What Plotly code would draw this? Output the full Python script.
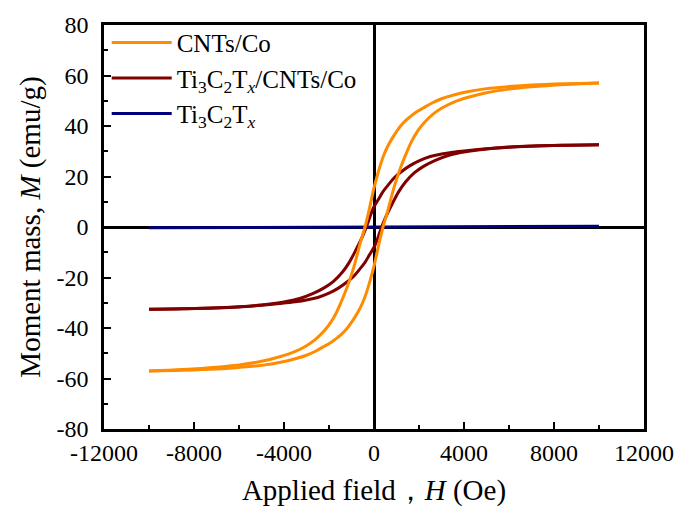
import plotly.graph_objects as go

# ---- data ----
# CNTs/Co loop: descending branch (+H -> -H) and ascending branch (-H -> +H)
cnt_down_H = [10000, 8500, 7000, 6000, 5000, 4150, 3500, 3000, 2600, 2200, 1900, 1650, 1450, 1200,
              1000, 800, 600, 450, 300, 150, 0, -200, -400, -600, -900, -1200, -1450, -1650,
              -1900, -2200, -2600, -3000, -3500, -4150, -5000, -6000, -7000, -8500, -10000]
cnt_down_M = [57.0, 56.7, 56.2, 55.6, 54.8, 53.6, 52.2, 50.8, 49.2, 47.2, 45.6, 44.0, 42.5, 40.2,
              37.8, 35.0, 31.8, 28.8, 25.0, 20.5, 15.5, 7.5, 0.0, -6.0, -16.0, -24.0, -29.5, -33.5,
              -37.5, -41.0, -44.5, -47.0, -49.3, -51.3, -53.2, -54.6, -55.5, -56.4, -57.0]
cnt_up_H = [-10000, -8500, -7000, -6000, -5000, -4150, -3500, -3000, -2600, -2200, -1900, -1650, -1450, -1200,
            -1000, -800, -600, -450, -300, -150, 0, 200, 400, 600, 900, 1200, 1450, 1650,
            1900, 2200, 2600, 3000, 3500, 4150, 5000, 6000, 7000, 8500, 10000]
cnt_up_M = [-57.0, -56.7, -56.2, -55.6, -54.8, -53.6, -52.2, -50.8, -49.2, -47.2, -45.6, -44.0, -42.5, -40.2,
            -37.8, -35.0, -31.8, -28.8, -25.0, -20.5, -15.5, -7.5, 0.0, 6.0, 16.0, 24.0, 29.5, 33.5,
            37.5, 41.0, 44.5, 47.0, 49.3, 51.3, 53.2, 54.6, 55.5, 56.4, 57.0]

# Ti3C2Tx/CNTs/Co loop
tc_down_H = [10000, 8500, 7000, 6000, 5000, 4200, 3500, 3000, 2500, 2000, 1600, 1200, 900, 600, 400, 200, 0,
             -100, -300, -500, -800, -1100, -1400, -1800, -2200, -2700, -3300, -4000, -5000, -6000, -7000,
             -8500, -10000]
tc_down_M = [32.6, 32.4, 32.1, 31.7, 31.0, 30.3, 29.6, 28.9, 27.9, 26.2, 24.3, 21.8, 19.5, 16.3, 14.0, 11.0, 8.0,
             6.0, 1.0, -3.5, -9.0, -14.0, -17.8, -21.5, -24.0, -26.3, -28.3, -29.7, -30.9, -31.6, -32.0,
             -32.4, -32.6]
tc_up_H = [-10000, -8500, -7000, -6000, -5000, -4200, -3500, -3000, -2500, -2000, -1600, -1200, -900, -600, -400, -200, 0,
           100, 300, 500, 800, 1100, 1400, 1800, 2200, 2700, 3300, 4000, 5000, 6000, 7000,
           8500, 10000]
tc_up_M = [-32.6, -32.4, -32.1, -31.7, -31.0, -30.3, -29.6, -28.9, -27.9, -26.2, -24.3, -21.8, -19.5, -16.3, -14.0, -11.0, -8.0,
           -6.0, -1.0, 3.5, 9.0, 14.0, 17.8, 21.5, 24.0, 26.3, 28.3, 29.7, 30.9, 31.6, 32.0,
           32.4, 32.6]

# Ti3C2Tx
ti_H = [-10000, -5000, 0, 5000, 10000]
ti_M = [-0.3, -0.15, 0.0, 0.15, 0.3]

x_ticks = [-12000, -8000, -4000, 0, 4000, 8000, 12000]
x_ticklabels = ["-12000", "-8000", "-4000", "0", "4000", "8000", "12000"]
y_ticks = [-80, -60, -40, -20, 0, 20, 40, 60, 80]
y_ticklabels = ["-80", "-60", "-40", "-20", "0", "20", "40", "60", "80"]

ORANGE = "#FF8C00"
MAROON = "#7F0000"
NAVY = "#00007F"
FONT = "Liberation Serif"

fig = go.Figure()

fig.add_trace(go.Scatter(x=ti_H, y=ti_M, mode="lines", name="Ti<sub>3</sub>C<sub>2</sub>T<sub><i>x</i></sub>",
                         line=dict(color=NAVY, width=3), legendrank=3))
fig.add_trace(go.Scatter(x=tc_down_H, y=tc_down_M, mode="lines", name="Ti<sub>3</sub>C<sub>2</sub>T<sub><i>x</i></sub>/CNTs/Co",
                         line=dict(color=MAROON, width=3, shape="spline", smoothing=1.0),
                         legendgroup="tc", legendrank=2))
fig.add_trace(go.Scatter(x=tc_up_H, y=tc_up_M, mode="lines", showlegend=False,
                         line=dict(color=MAROON, width=3, shape="spline", smoothing=1.0),
                         legendgroup="tc"))
fig.add_trace(go.Scatter(x=cnt_down_H, y=cnt_down_M, mode="lines", name="CNTs/Co",
                         line=dict(color=ORANGE, width=3, shape="spline", smoothing=1.0),
                         legendgroup="cnt", legendrank=1))
fig.add_trace(go.Scatter(x=cnt_up_H, y=cnt_up_M, mode="lines", showlegend=False,
                         line=dict(color=ORANGE, width=3, shape="spline", smoothing=1.0),
                         legendgroup="cnt"))

axis_common = dict(
    showline=True, linecolor="black", linewidth=2.5, mirror=True,
    ticks="inside", ticklen=7, tickwidth=2, tickcolor="black",
    showgrid=False, zeroline=True, zerolinecolor="black", zerolinewidth=2.5,
    tickfont=dict(family=FONT, size=24, color="black"),
)

fig.update_xaxes(range=[-12000, 12000], tickvals=x_ticks, ticktext=x_ticklabels,
                 minor=dict(ticks="inside", ticklen=4, tickwidth=2, tickcolor="black", dtick=2000, tick0=0),
                 title=dict(text="Applied field，<i>H</i> (Oe)", font=dict(family=FONT, size=29, color="black"),
                            standoff=16),
                 **axis_common)
fig.update_yaxes(range=[-80, 80], tickvals=y_ticks, ticktext=y_ticklabels,
                 minor=dict(ticks="inside", ticklen=4, tickwidth=2, tickcolor="black", dtick=10, tick0=0),
                 ticklabelstandoff=8,
                 title=dict(text="Moment mass, <i>M</i> (emu/g)", font=dict(family=FONT, size=29, color="black"),
                            standoff=8),
                 **axis_common)

fig.update_layout(
    width=686, height=515,
    margin=dict(l=104, r=38, t=24, b=86),
    plot_bgcolor="white", paper_bgcolor="white",
    font=dict(family=FONT, color="black"),
    legend=dict(x=0.005, y=1.013, xanchor="left", yanchor="top", bgcolor="rgba(0,0,0,0)",
                font=dict(family=FONT, size=25, color="black"), itemwidth=60,
                tracegroupgap=0),
)

fig.write_html("out.html")
